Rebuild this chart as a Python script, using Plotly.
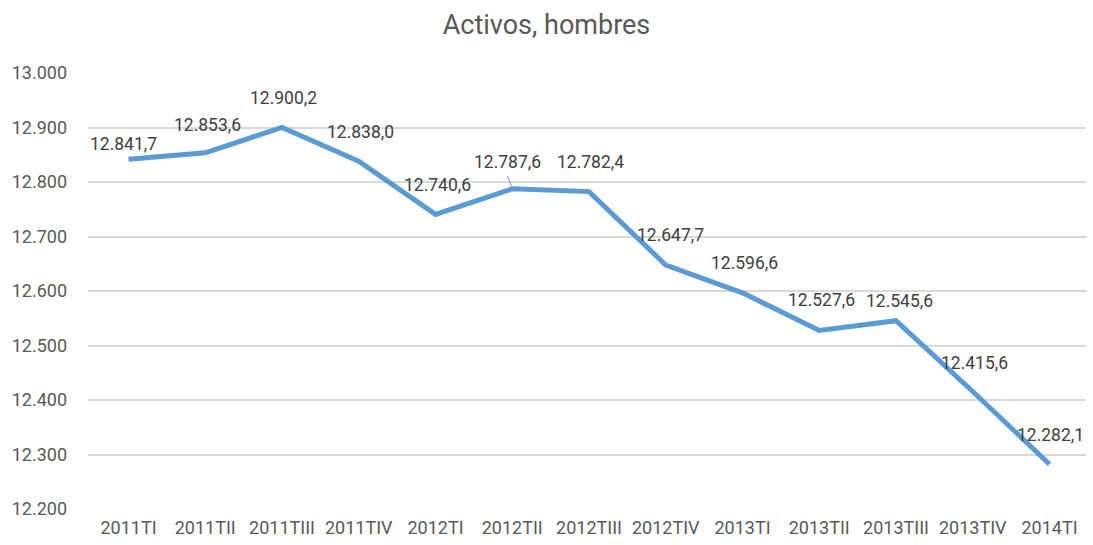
import plotly.graph_objects as go

# Datos
trimestres = ["2011TI", "2011TII", "2011TIII", "2011TIV", "2012TI", "2012TII",
              "2012TIII", "2012TIV", "2013TI", "2013TII", "2013TIII", "2013TIV", "2014TI"]
activos = [12841.7, 12853.6, 12900.2, 12838.0, 12740.6, 12787.6,
           12782.4, 12647.7, 12596.6, 12527.6, 12545.6, 12415.6, 12282.1]

# desplazamiento de cada etiqueta (px)
label_shift = [15, 28, 29, 29, 29, 27, 30, 30, 30, 30, 20, 29, 29]
label_xshift = [-5, 2, 1, 2, 2, -5, 1, 5, 2, 2, 3, 2, 1]

FONT = "Roboto"

fig = go.Figure()
fig.add_trace(go.Scatter(
    x=trimestres, y=activos, mode="lines",
    line=dict(color="#5B9BD5", width=5),
    hoverinfo="x+y", showlegend=False,
))

for i, (t, v) in enumerate(zip(trimestres, activos)):
    txt = f"{v:,.1f}".replace(",", "X").replace(".", ",").replace("X", ".")
    fig.add_annotation(x=t, y=v, text=txt, showarrow=False,
                       yshift=label_shift[i], xshift=label_xshift[i],
                       font=dict(family=FONT, size=17.5, color="#404040"))

# línea guía de la etiqueta 2012TII
fig.add_annotation(x=trimestres[5], y=activos[5], ax=-5, ay=-14, text="",
                   showarrow=True, arrowhead=0, arrowwidth=1.2, arrowcolor="#a6a6a6",
                   standoff=3)

fig.update_layout(
    width=1093, height=545,
    paper_bgcolor="white", plot_bgcolor="white",
    separators=",.",
    title=dict(text="Activos, hombres", x=0.5, xanchor="center", y=0.955, yanchor="middle",
               font=dict(family=FONT, size=27, color="#595959")),
    margin=dict(l=88, r=7, t=73, b=34),
    font=dict(family=FONT, size=18, color="#595959"),
    xaxis=dict(showgrid=False, showline=False, ticks="", zeroline=False,
               ticklabelstandoff=6,
               tickfont=dict(family=FONT, size=18, color="#595959")),
    yaxis=dict(range=[12200, 13000], dtick=100, tickformat=",.0f",
               showgrid=True, gridcolor="#d9d9d9", gridwidth=1.5,
               zeroline=False, showline=False, ticks="",
               ticklabelstandoff=20,
               tickfont=dict(family=FONT, size=18, color="#595959")),
)

fig.write_html("out.html", config={"displayModeBar": False},
               post_script="document.body.style.margin='0';")
